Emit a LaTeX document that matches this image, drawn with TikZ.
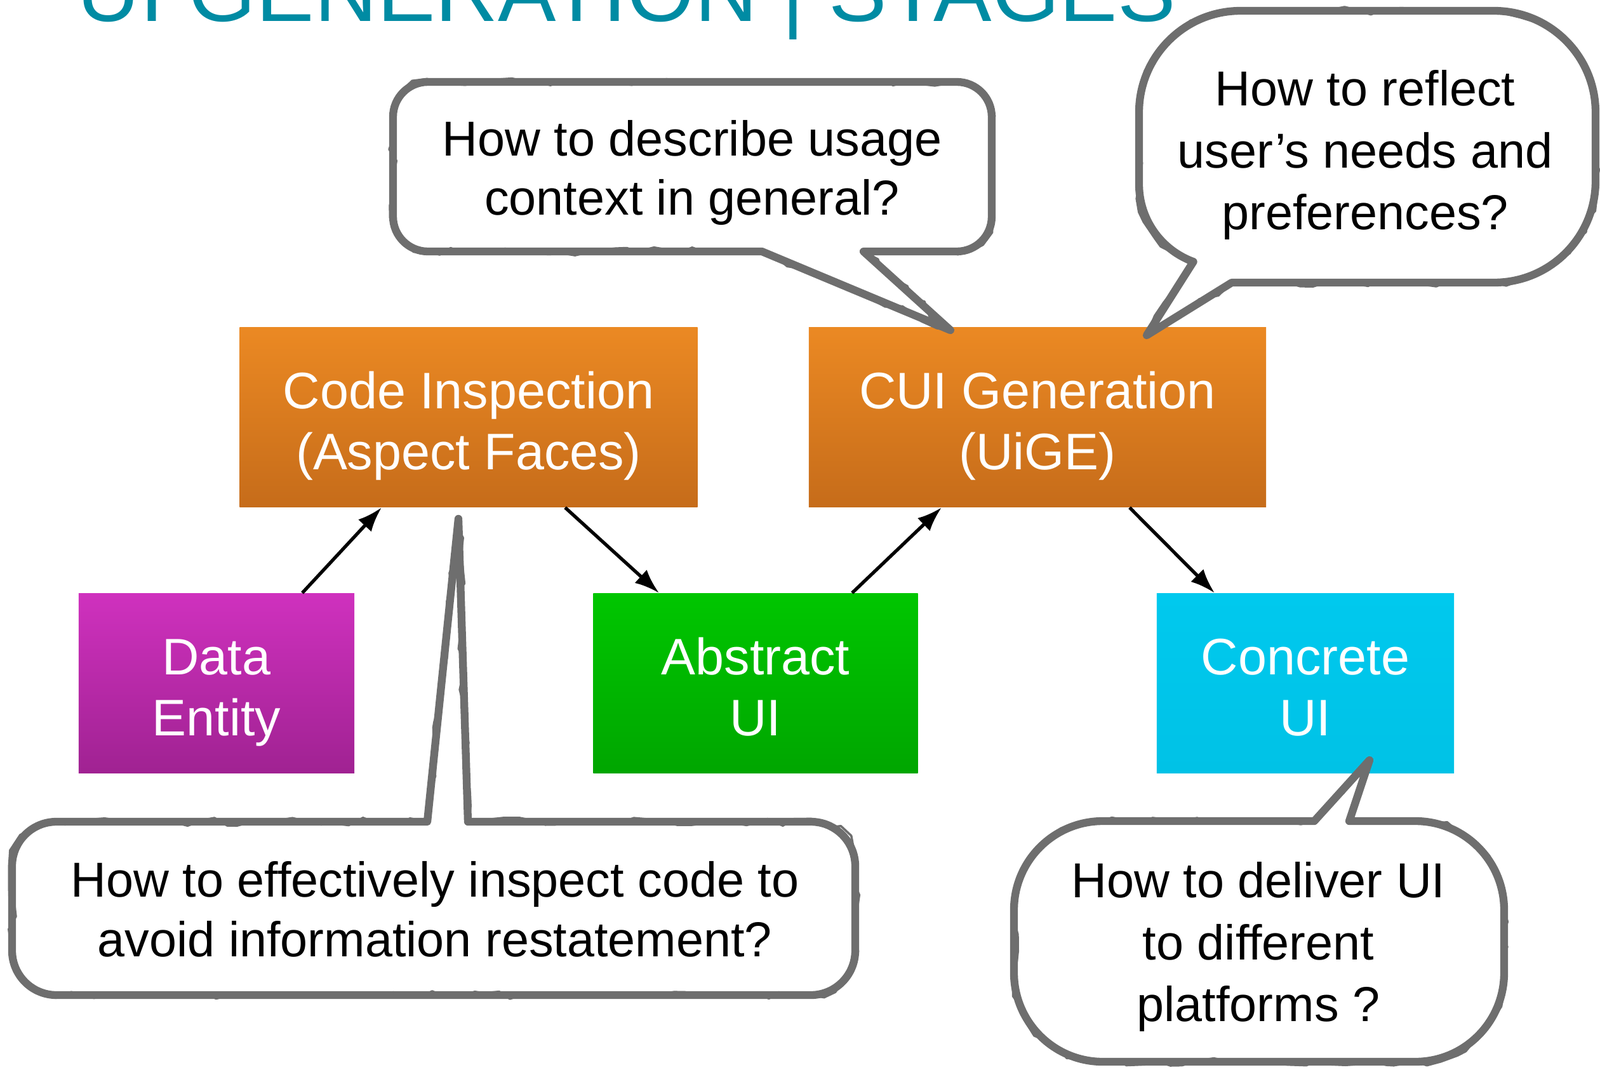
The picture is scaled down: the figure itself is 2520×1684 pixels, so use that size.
\documentclass[tikz,border=0pt]{standalone}
\usepackage{fontspec}
\setmainfont{Liberation Sans}
\usetikzlibrary{arrows.meta,decorations.pathmorphing}
\definecolor{titre}{RGB}{0,139,163}
\definecolor{orangehaut}{RGB}{235,137,35}
\definecolor{orangebas}{RGB}{198,108,26}
\definecolor{mauvehaut}{RGB}{207,49,190}
\definecolor{mauvebas}{RGB}{160,34,146}
\definecolor{verthaut}{RGB}{0,198,0}
\definecolor{vertbas}{RGB}{0,166,0}
\definecolor{cyanhaut}{RGB}{0,201,238}
\definecolor{cyanbas}{RGB}{0,194,230}
\definecolor{crayon}{RGB}{110,110,110}

\begin{document}
\begin{tikzpicture}[x=0.01cm, y=0.01cm]
\tikzset{etape/.style={minimum height=2.83cm, inner sep=0pt, align=center, text=white, font=\fontsize{23}{27.5}\selectfont,
  execute at begin node={\rule{0pt}{\dimexpr1.06em+27.5pt\relax}}, execute at end node={\rule[-0.21em]{0pt}{0pt}}}}
\tikzset{question/.style={align=center, font=\fontsize{22}{27.6}\selectfont}}
\tikzset{bulle/.style={draw=crayon, line width=3.5pt, line join=round, postaction={draw=crayon, line width=1pt, decorate, decoration={random steps, segment length=6pt, amplitude=1.8pt}}}}
\tikzset{fleche/.style={-{Latex[length=11pt,width=8pt]}, line width=1.5pt}}
\useasboundingbox (0,0) rectangle (2520,-1684);
\clip (0,0) rectangle (2520,-1684);
\node[anchor=base west, inner sep=0pt, text=titre, font=\fontsize{39}{40}\selectfont] (T) at (121,-33) {UI GENERATION | STAGES};
\node[etape, minimum width=7.21cm, top color=orangehaut, bottom color=orangebas] (E1) at (738,-657) {Code Inspection\\(Aspect Faces)};
\node[etape, minimum width=7.20cm, top color=orangehaut, bottom color=orangebas] (E2) at (1634,-657) {CUI Generation\\(UiGE)};
\node[etape, minimum width=4.34cm, top color=mauvehaut, bottom color=mauvebas] (E3) at (341,-1076) {Data\\Entity};
\node[etape, minimum width=5.11cm, top color=verthaut, bottom color=vertbas] (E4) at (1190,-1076) {Abstract\\UI};
\node[etape, minimum width=4.68cm, top color=cyanhaut, bottom color=cyanbas] (E5) at (2056,-1076) {Concrete\\UI};
\draw[fleche] ([xshift=1.35cm]E3.north) -- ([xshift=-1.37cm]E1.south);
\draw[fleche] ([xshift=1.52cm]E1.south) -- ([xshift=-1.52cm]E4.north);
\draw[fleche] ([xshift=1.52cm]E4.north) -- ([xshift=-1.51cm]E2.south);
\draw[fleche] ([xshift=1.45cm]E2.south) -- ([xshift=-1.43cm]E5.north);
% bulles
\draw[bulle] (1200,-396) -- (674,-396) arc[start angle=270, end angle=180, radius=55] -- (619,-184) arc[start angle=180, end angle=90, radius=55] -- (1507,-129) arc[start angle=90, end angle=0, radius=55] -- (1562,-341) arc[start angle=0, end angle=-90, radius=55] -- (1360,-396) -- (1497,-520) -- cycle;
\draw[bulle] (1940,-445) -- (2353,-445) arc[start angle=-90, end angle=0, radius=160] -- (2513,-177) arc[start angle=0, end angle=90, radius=160] -- (1954,-17) arc[start angle=90, end angle=180, radius=160] -- (1794,-290) arc[start angle=180, end angle=250, radius=130] -- (1806,-528) -- cycle;
\draw[bulle] (673,-1294) -- (89,-1294) arc[start angle=90, end angle=180, radius=70] -- (19,-1497) arc[start angle=180, end angle=270, radius=70] -- (1277,-1567) arc[start angle=270, end angle=360, radius=70] -- (1347,-1364) arc[start angle=0, end angle=90, radius=70] -- (737,-1294) -- (722,-817) -- cycle;
\draw[bulle] (2070,-1293) -- (1737,-1293) arc[start angle=90, end angle=180, radius=140] -- (1597,-1532) arc[start angle=180, end angle=270, radius=140] -- (2229,-1672) arc[start angle=270, end angle=360, radius=140] -- (2369,-1433) arc[start angle=0, end angle=90, radius=140] -- (2125,-1293) -- (2157,-1197) -- cycle;
\node[question, font=\fontsize{22}{26.3}\selectfont] (Q1) at (1090,-272) {How to describe usage\\context in general?};
\node[question] (Q2) at (2150,-244) {How to reflect\\user’s needs and\\preferences?};
\node[question, font=\fontsize{22}{26.8}\selectfont] (Q3) at (685,-1432) {How to effectively inspect code to\\avoid information restatement?};
\node[question] (Q4) at (1982,-1491) {How to deliver UI\\to different\\platforms ?};
\end{tikzpicture}
\end{document}
